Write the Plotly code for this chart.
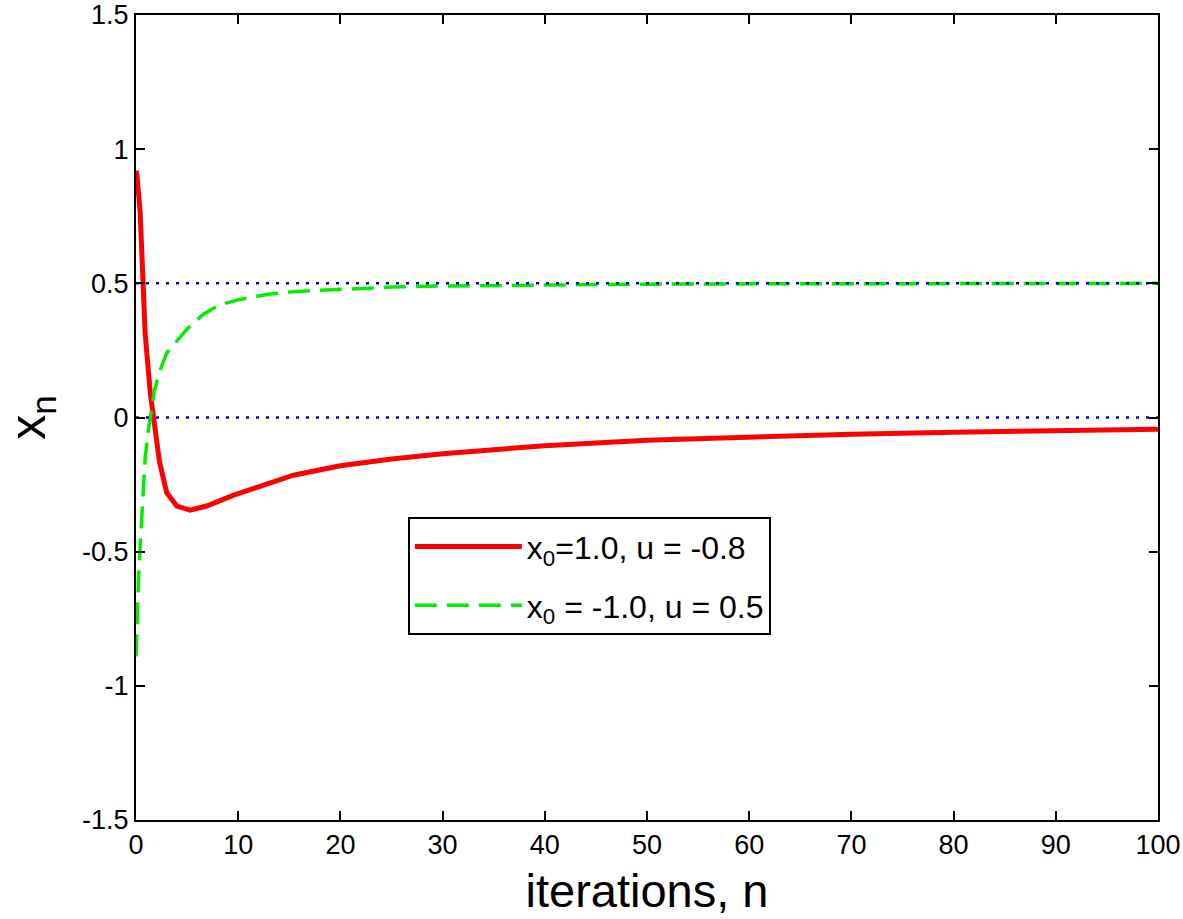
import plotly.graph_objects as go

# Red series: x0 = 1.0, u = -0.8
red_n = [0, 0.1, 0.4, 0.6, 0.9, 1.4, 1.7, 2.3, 3.0, 4.0, 5.3, 6.9, 9.5, 12.8, 15.4,
         20, 25, 30, 40, 50, 60, 70, 80, 90, 100]
red_x = [0.92, 0.90, 0.77, 0.56, 0.31, 0.09, 0.0, -0.165, -0.28, -0.33, -0.345, -0.33,
         -0.29, -0.25, -0.215, -0.18, -0.155, -0.135, -0.105, -0.085, -0.072, -0.062,
         -0.055, -0.049, -0.044]

# Green series: x0 = -1.0, u = 0.5
green_n = [0, 0.1, 0.3, 0.6, 0.9, 1.2, 1.5, 1.8, 2.3, 3.0, 4.0, 5.0, 6.6, 8.2, 10.2,
           13.1, 15.8, 20, 25, 30, 40, 50, 60, 70, 80, 90, 100]
green_x = [-0.89, -0.75, -0.55, -0.35, -0.15, -0.05, 0.02, 0.10, 0.17, 0.24, 0.285,
           0.33, 0.385, 0.42, 0.44, 0.46, 0.47, 0.478, 0.486, 0.49, 0.495, 0.497,
           0.498, 0.499, 0.5, 0.5, 0.5]

ref_levels = [0.5, 0.0]

x_ticks = [0, 10, 20, 30, 40, 50, 60, 70, 80, 90, 100]
y_ticks = [-1.5, -1, -0.5, 0, 0.5, 1, 1.5]
y_tick_text = ["-1.5", "-1", "-0.5", "0", "0.5", "1", "1.5"]

FONT = "Liberation Sans"

fig = go.Figure()

fig.add_trace(go.Scatter(
    x=red_n, y=red_x, mode="lines",
    line=dict(color="#FF0000", width=5),
    legendgroup="a",
    name="x<sub>0</sub>=1.0, u = -0.8"))

fig.add_trace(go.Scatter(
    x=green_n, y=green_x, mode="lines",
    line=dict(color="#00EE00", width=3.5, dash="22px,10px"),
    legendgroup="b",
    name="x<sub>0</sub> = -1.0, u = 0.5"))

for lvl in ref_levels:
    fig.add_trace(go.Scatter(
        x=[x_ticks[0], x_ticks[-1]], y=[lvl, lvl], mode="lines",
        line=dict(color="#0000CC", width=2.5, dash="3px,7px"),
        showlegend=False, hoverinfo="skip"))

axis_common = dict(
    showline=True, linecolor="black", linewidth=2, mirror="ticks",
    ticks="inside", ticklen=9, tickwidth=2, tickcolor="black",
    showgrid=False, zeroline=False, automargin=False,
    tickfont=dict(family=FONT, size=27, color="black"),
)

fig.update_xaxes(range=[0, 100], tickvals=x_ticks,
                 title=dict(text="iterations, n",
                            font=dict(family=FONT, size=47, color="black")),
                 **axis_common)
fig.update_yaxes(range=[-1.5, 1.5], tickvals=y_ticks, ticktext=y_tick_text,
                 title=dict(text="x<sub>n</sub>", standoff=33,
                            font=dict(family=FONT, size=50, color="black")),
                 **axis_common)

fig.update_layout(
    width=1183, height=919,
    margin=dict(l=136, r=25, t=15, b=99),
    plot_bgcolor="white", paper_bgcolor="white",
    legend=dict(x=0.266, y=0.376, xanchor="left", yanchor="top",
                bordercolor="black", borderwidth=2, bgcolor="white",
                itemwidth=107, tracegroupgap=14,
                font=dict(family=FONT, size=32, color="black")),
)

fig.write_html("out.html", config={"displayModeBar": False},
               post_script="document.body.style.margin='0';")
